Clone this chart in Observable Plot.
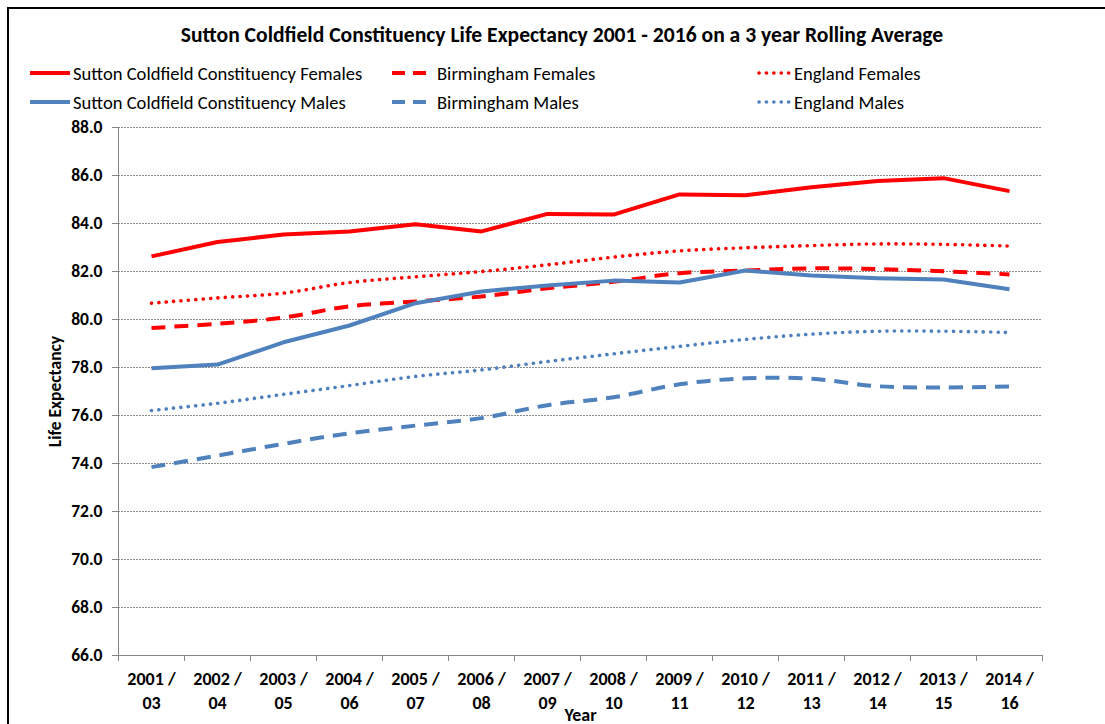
<!DOCTYPE html>
<html>
<head>
<meta charset="utf-8">
<script src="https://cdn.jsdelivr.net/npm/d3@7"></script>
<script src="https://cdn.jsdelivr.net/npm/@observablehq/plot@0.6"></script>
<style>
  html, body { margin: 0; padding: 0; background: #fff; }
  body { width: 1105px; height: 724px; overflow: hidden; position: relative; font-family: Carlito, Lato, "Open Sans", sans-serif; }
  #frame { position: absolute; left: 7px; top: 7px; width: 1110px; height: 730px; border: 2px solid #000; box-sizing: border-box; }
  #title { position: absolute; left: 0; top: 21px; width: 1124px; text-align: center; font-size: 21.6px; font-weight: bold; color: #000; white-space: nowrap; }
  .leg { position: absolute; display: flex; align-items: center; font-size: 18.6px; color: #000; white-space: nowrap; }
  .leg svg { display: block; margin-right: 3px; }
  #chart { position: absolute; left: 0; top: 115px; width: 1105px; height: 609px; }
  #chart svg { width: 1105px !important; max-width: none !important; height: 609px !important; }
</style>
</head>
<body>
<div id="frame"></div>
<div id="title">Sutton Coldfield Constituency Life Expectancy 2001 - 2016 on a 3 year Rolling Average</div>
<div id="legend"></div>
<div id="chart"></div>
<script>
// ---- data ----
const years = ["2001 / 03","2002 / 04","2003 / 05","2004 / 06","2005 / 07","2006 / 08","2007 / 09",
               "2008 / 10","2009 / 11","2010 / 12","2011 / 13","2012 / 14","2013 / 15","2014 / 16"];
const suttonFemales     = [82.63, 83.23, 83.54, 83.67, 83.97, 83.67, 84.40, 84.37, 85.21, 85.18, 85.51, 85.77, 85.89, 85.35];
const birminghamFemales = [79.65, 79.82, 80.08, 80.55, 80.75, 80.96, 81.30, 81.57, 81.93, 82.04, 82.13, 82.10, 82.01, 81.88];
const englandFemales    = [80.68, 80.90, 81.10, 81.54, 81.78, 82.00, 82.28, 82.60, 82.86, 82.99, 83.08, 83.15, 83.13, 83.06];
const suttonMales       = [77.97, 78.12, 79.05, 79.75, 80.68, 81.17, 81.42, 81.62, 81.54, 82.04, 81.83, 81.72, 81.67, 81.26];
const birminghamMales   = [73.85, 74.33, 74.82, 75.26, 75.58, 75.89, 76.43, 76.76, 77.30, 77.55, 77.53, 77.22, 77.17, 77.21];
const englandMales      = [76.21, 76.51, 76.88, 77.25, 77.63, 77.90, 78.25, 78.57, 78.88, 79.17, 79.39, 79.51, 79.51, 79.46];
const seriesNames = ["Sutton Coldfield Constituency Females", "Birmingham Females", "England Females",
                     "Sutton Coldfield Constituency Males", "Birmingham Males", "England Males"];
const seriesValues = [suttonFemales, birminghamFemales, englandFemales, suttonMales, birminghamMales, englandMales];
const yTicks = [66, 68, 70, 72, 74, 76, 78, 80, 82, 84, 86, 88];

// ---- styles ----
const RED = "#FF0000", BLUE = "#4F81BD";
const styles = [
  {stroke: RED,  dash: null,      width: 4,   cap: "butt",  curve: "linear"},
  {stroke: RED,  dash: "14 9",    width: 4,   cap: "butt",  curve: "catmull-rom"},
  {stroke: RED,  dash: "0.1 7.3", width: 3.6, cap: "round", curve: "catmull-rom"},
  {stroke: BLUE, dash: null,      width: 4,   cap: "butt",  curve: "linear"},
  {stroke: BLUE, dash: "14 9",    width: 4,   cap: "butt",  curve: "catmull-rom"},
  {stroke: BLUE, dash: "0.1 7.3", width: 3.6, cap: "round", curve: "catmull-rom"}
];

// ---- legend ----
const legendPos = [[30, 73], [392, 73], [757, 73], [30, 102], [392, 102], [757, 102]];
const legend = document.getElementById("legend");
seriesNames.forEach((name, i) => {
  const s = styles[i];
  const w = i % 3 === 0 ? 40 : (i % 3 === 1 ? 42 : 34);
  const d = document.createElement("div");
  d.className = "leg";
  d.style.left = legendPos[i][0] + "px";
  d.style.top = (legendPos[i][1] - 12) + "px";
  d.style.height = "24px";
  d.innerHTML = `<svg width="${w}" height="8"><line x1="${s.cap === "round" ? 2 : 0}" x2="${w}" y1="4" y2="4" stroke="${s.stroke}" stroke-width="${s.width}" stroke-linecap="${s.cap}" ${s.dash ? `stroke-dasharray="${i % 3 === 1 ? "13 8" : s.dash}"` : ""}/></svg><span>${name}</span>`;
  legend.appendChild(d);
});

// ---- chart ----
const marks = [
  Plot.gridY(yTicks, {stroke: "#8c8c8c", strokeOpacity: 1, strokeDasharray: "2 1", strokeWidth: 1}),
  Plot.ruleY([66], {stroke: "#868686", strokeWidth: 1}),
  Plot.ruleX([years[0]], {y1: 66, y2: 88, dx: -33, stroke: "#868686", strokeWidth: 1}),
  Plot.ruleX(years, {y1: 66, y2: 66, insetBottom: -6, dx: -33, stroke: "#868686", strokeWidth: 1}),
  Plot.ruleX([years[years.length - 1]], {y1: 66, y2: 66, insetBottom: -6, dx: 33, stroke: "#868686", strokeWidth: 1}),
  Plot.axisY({ticks: yTicks, tickFormat: d => d.toFixed(1), tickSize: 6, tickPadding: 10,
              stroke: "#868686", fontSize: 17.5, fontWeight: "bold", fill: "#000",
              label: null}),
  Plot.text(["Life Expectancy"], {frameAnchor: "left", dx: -63, rotate: -90, fontSize: 17.5, fontWeight: "bold", fill: "#000", textAnchor: "middle"}),
  Plot.axisX({tickSize: 0, tickPadding: 13, fontSize: 18, fontWeight: "bold", fill: "#000", lineHeight: 1.3,
              tickFormat: d => d.replace(" / ", " /\n"),
              label: "Year", labelAnchor: "center", labelArrow: "none", labelOffset: 65})
];
seriesValues.forEach((vals, i) => {
  const s = styles[i];
  const data = years.map((y, j) => ({year: y, value: vals[j]}));
  marks.push(Plot.line(data, {x: "year", y: "value", stroke: s.stroke, strokeWidth: s.width,
    strokeDasharray: s.dash || undefined, strokeLinecap: s.cap, strokeLinejoin: "round", curve: s.curve}));
});

const chart = Plot.plot({
  width: 1105,
  height: 609,
  marginTop: 12,
  marginBottom: 69,
  marginLeft: 118,
  marginRight: 63,
  style: {fontFamily: "Carlito, Lato, 'Open Sans', sans-serif", background: "transparent", color: "#000", fontSize: "18px"},
  x: {type: "point", domain: years, padding: 0.5},
  y: {domain: [66, 88]},
  marks
});
document.getElementById("chart").appendChild(chart);
</script>
</body>
</html>
